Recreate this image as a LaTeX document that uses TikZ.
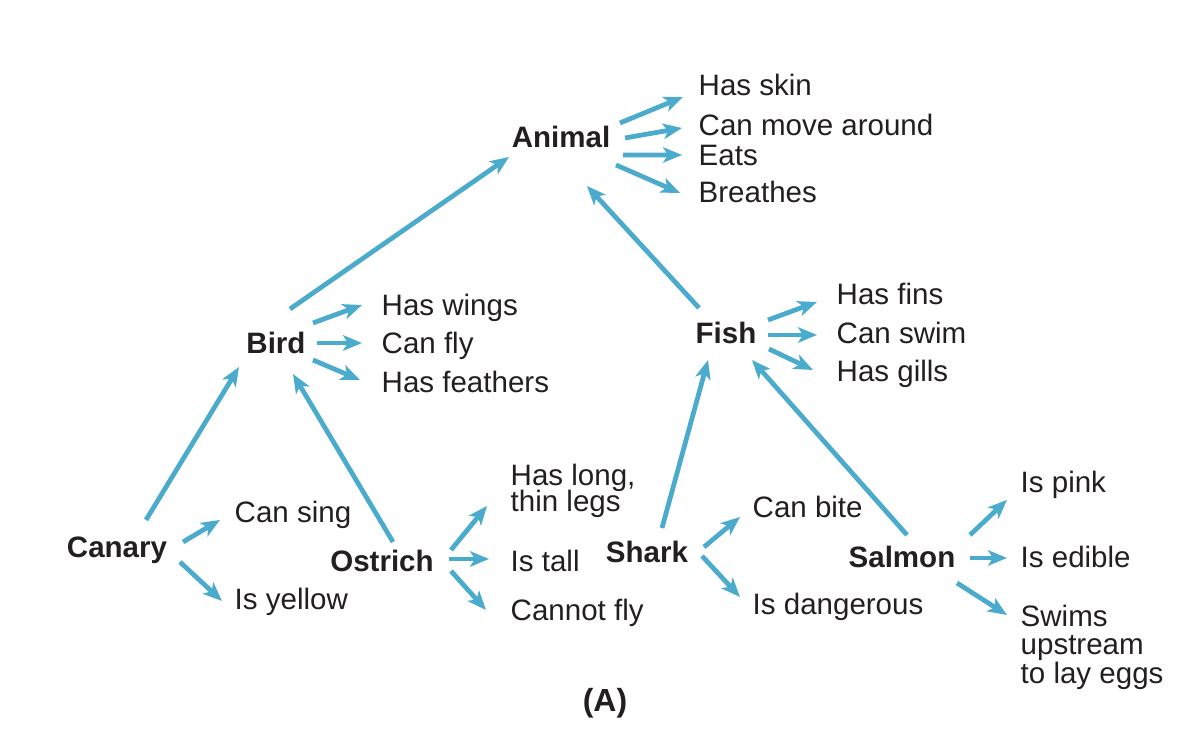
\documentclass[tikz,border=0pt]{standalone}
\usepackage{fontspec}
\setmainfont{Liberation Sans}
\usetikzlibrary{calc,arrows.meta}
\definecolor{arrowblue}{RGB}{74,171,205}
\definecolor{ink}{RGB}{35,31,32}
\def\tightlines{\lineskiplimit=-10pt\relax}
\def\conn(#1)(#2)(#3)(#4){\draw[arr] ($(#1)+(#2)$) -- ($(#3)+(#4)$);}

\begin{document}
\begin{tikzpicture}[
		concept/.style={font=\bfseries\fontsize{8.4}{8}\selectfont, text=ink, inner sep=0pt, text height=6pt, text depth=0pt},
		prop/.style={font=\fontsize{8.4}{8}\selectfont, text=ink, inner sep=0pt, text height=6pt, text depth=0pt, anchor=west},
		propblock/.style={text=ink, inner sep=0pt, align=left, anchor=north west},
		arr/.style={draw=arrowblue, line width=1.35pt, -{Stealth[length=5.4pt,width=4.4pt,inset=1.4pt]}}]
		%%%%% START %%%%%
		
		\useasboundingbox (0, 0) rectangle (11.82, 7.34);
		
		\node[concept] (animal) at (5.61, 5.97) {Animal};
		\node[concept] (bird) at (2.76, 3.91) {Bird};
		\node[concept] (fish) at (7.26, 4.01) {Fish};
		\node[concept] (canary) at (1.17, 1.87) {Canary};
		\node[concept] (ostrich) at (3.82, 1.73) {Ostrich};
		\node[concept] (shark) at (6.47, 1.82) {Shark};
		\node[concept] (salmon) at (9.02, 1.77) {Salmon};
		
		\node[prop] (skin) at (6.98, 6.49) {Has skin};
		\node[prop] (move) at (6.98, 6.09) {Can move around};
		\node[prop] (eats) at (6.98, 5.79) {Eats};
		\node[prop] (breathes) at (6.98, 5.42) {Breathes};
		
		\node[prop] (wings) at (3.81, 4.29) {Has wings};
		\node[prop] (flies) at (3.81, 3.91) {Can fly};
		\node[prop] (feathers) at (3.81, 3.52) {Has feathers};
		
		\node[prop] (fins) at (8.36, 4.40) {Has fins};
		\node[prop] (swim) at (8.36, 4.01) {Can swim};
		\node[prop] (gills) at (8.36, 3.63) {Has gills};
		
		\node[prop] (sing) at (2.34, 2.22) {Can sing};
		\node[prop] (yellow) at (2.34, 1.35) {Is yellow};
		
		\node[propblock, font=\fontsize{8.4}{7.4}\selectfont\tightlines] (legs) at (5.10, 2.71) {Has long,\\thin legs};
		\node[prop] (tall) at (5.10, 1.73) {Is tall};
		\node[prop] (nofly) at (5.10, 1.24) {Cannot fly};
		
		\node[prop] (bite) at (7.52, 2.27) {Can bite};
		\node[prop] (dangerous) at (7.52, 1.30) {Is dangerous};
		
		\node[prop] (pink) at (10.20, 2.52) {Is pink};
		\node[prop] (edible) at (10.20, 1.77) {Is edible};
		\node[propblock, font=\fontsize{8.4}{8.2}\selectfont\tightlines] (swims) at (10.20, 1.30) {Swims\\upstream\\to lay eggs};
		
		\node[concept, font=\bfseries\fontsize{9.1}{10}\selectfont, text height=6.5pt] (caption) at (6.05, 0.34) {(A)};
		
		% is-a links
		\conn(bird)(0.14,0.34)(animal)(-0.52,-0.20)
		\conn(fish)(-0.27,0.25)(animal)(0.26,-0.49)
		\conn(canary)(0.29,0.27)(bird)(-0.37,-0.24)
		\conn(ostrich)(0.11,0.19)(bird)(0.17,-0.31)
		\conn(shark)(0.15,0.24)(fish)(-0.18,-0.27)
		\conn(salmon)(0.05,0.22)(fish)(0.26,-0.27)
		
		% properties
		\conn(animal)(0.59,0.14)(skin.west)(-0.15,-0.12)
		\conn(animal)(0.64,-0.01)(move.west)(-0.16,-0.03)
		\conn(animal)(0.62,-0.18)(eats.west)(-0.16,0)
		\conn(animal)(0.55,-0.28)(breathes.west)(-0.18,-0.01)
		
		\conn(bird)(0.37,0.20)(wings.west)(-0.19,0)
		\conn(bird)(0.41,0)(flies.west)(-0.19,0)
		\conn(bird)(0.37,-0.17)(feathers.west)(-0.21,0.02)
		
		\conn(fish)(0.42,0.13)(fins.west)(-0.19,-0.08)
		\conn(fish)(0.42,-0.02)(swim.west)(-0.19,-0.02)
		\conn(fish)(0.43,-0.16)(gills.west)(-0.23,0.01)
		
		\conn(canary)(0.66,0.05)(sing.west)(-0.14,-0.08)
		\conn(canary)(0.63,-0.15)(yellow.west)(-0.12,-0.02)
		
		\conn(ostrich)(0.69,0.11)(legs.north west)(-0.23,-0.43)
		\conn(ostrich)(0.67,0.02)(tall.west)(-0.21,0.02)
		\conn(ostrich)(0.69,-0.10)(nofly.west)(-0.24,0)
		
		\conn(shark)(0.57,0.05)(bite.west)(-0.12,-0.10)
		\conn(shark)(0.55,-0.04)(dangerous.west)(-0.12,0.07)
		
		\conn(salmon)(0.68,0.22)(pink.west)(-0.13,-0.18)
		\conn(salmon)(0.68,-0.01)(edible.west)(-0.13,-0.01)
		\conn(salmon)(0.55,-0.26)(swims.north west)(-0.13,-0.11)
		
		%%%%% END %%%%%
	\end{tikzpicture}
\end{document}
